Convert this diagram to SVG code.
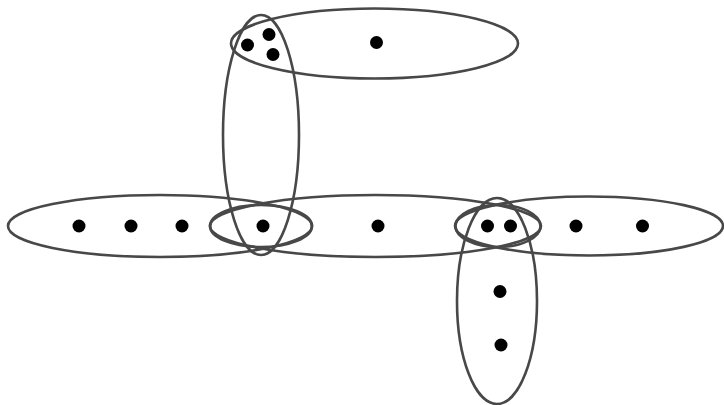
<svg xmlns="http://www.w3.org/2000/svg" width="724" height="405" viewBox="0 0 724 405">
<style>
.e{fill:none;stroke:#484848;stroke-width:2.6}
.n{fill:#000}
</style>
<rect width="724" height="405" fill="#fff"/>
<g id="connectors">
<ellipse class="e" cx="374.5" cy="43.5" rx="143.5" ry="35"/>
<ellipse class="e" cx="261" cy="135" rx="38" ry="120"/>
<ellipse class="e" cx="160" cy="226" rx="152" ry="31"/>
<ellipse class="e" cx="375.5" cy="226" rx="165.5" ry="31"/>
<ellipse class="e" cx="589" cy="226" rx="134" ry="29.5"/>
<ellipse class="e" cx="261" cy="226" rx="51" ry="21"/>
<ellipse class="e" cx="498" cy="226" rx="42.5" ry="21"/>
<ellipse class="e" cx="497" cy="301" rx="40" ry="103"/>
</g>
<g id="n1"><circle class="n" cx="247.5" cy="45" r="6.5"/></g>
<g id="n2"><circle class="n" cx="269" cy="34.5" r="6.5"/></g>
<g id="n3"><circle class="n" cx="273" cy="54.5" r="6.5"/></g>
<g id="n4"><circle class="n" cx="376.5" cy="42.5" r="6.5"/></g>
<g id="n5"><circle class="n" cx="79" cy="226" r="6.5"/></g>
<g id="n6"><circle class="n" cx="131" cy="226" r="6.5"/></g>
<g id="n7"><circle class="n" cx="182" cy="226" r="6.5"/></g>
<g id="n8"><circle class="n" cx="263" cy="226" r="6.5"/></g>
<g id="n9"><circle class="n" cx="378" cy="226" r="6.5"/></g>
<g id="n10"><circle class="n" cx="487.5" cy="226" r="6.5"/></g>
<g id="n11"><circle class="n" cx="510.5" cy="226" r="6.5"/></g>
<g id="n12"><circle class="n" cx="576" cy="226" r="6.5"/></g>
<g id="n13"><circle class="n" cx="642.5" cy="226" r="6.5"/></g>
<g id="n14"><circle class="n" cx="500" cy="291.5" r="6.5"/></g>
<g id="n15"><circle class="n" cx="501" cy="345" r="6.5"/></g>
</svg>
